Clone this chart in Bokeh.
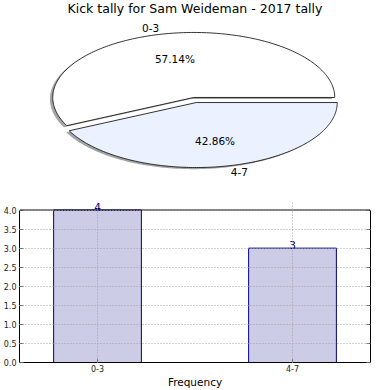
import numpy as np
from bokeh.plotting import figure
from bokeh.models import (Range1d, FixedTicker, ColumnDataSource, Span,
                          PrintfTickFormatter, LinearAxis)
from bokeh.layouts import column
from bokeh.embed import file_html
from bokeh.resources import INLINE
from bokeh.core.properties import value

# ---- data ----
title_text = "Kick tally for Sam Weideman - 2017 tally"
categories = ["0-3", "4-7"]
counts = [4, 3]
explode = [0.04, 0.04]
pie_colors = ["#FFFFFF", "#EBF1FE"]
y_ticks = [0.0, 0.5, 1.0, 1.5, 2.0, 2.5, 3.0, 3.5, 4.0]
x_label = "Frequency"

FONT = "DejaVu Sans"
BL, BR = 19, 20  # shared left/right borders so both frames line up

# ---- pie ----
p1 = figure(width=390, height=185, x_range=Range1d(-1.2447, 1.2447),
            y_range=Range1d(-1.3154, 1.5308), output_backend="svg",
            toolbar_location=None, x_axis_location=None, y_axis_location=None,
            min_border_left=BL, min_border_right=BR, min_border_top=0,
            min_border_bottom=0)
p1.grid.visible = False
p1.outline_line_color = None

total = float(sum(counts))
start = 0.0
wx, wy, sx, sy, cols, shcols = [], [], [], [], [], []
lab_x, lab_y, lab_t, lab_align = [], [], [], []
pct_x, pct_y, pct_t = [], [], []
for cat, c, e, col in zip(categories, counts, explode, pie_colors):
    ang = 360.0 * c / total
    a0, a1 = np.radians(start), np.radians(start + ang)
    mid = (a0 + a1) / 2
    ox, oy = e * np.cos(mid), e * np.sin(mid)
    t = np.linspace(a0, a1, 200)
    xs = np.concatenate([[0.0], np.cos(t), [0.0]]) + ox
    ys = np.concatenate([[0.0], np.sin(t), [0.0]]) + oy
    wx.append(list(xs)); wy.append(list(ys))
    sx.append(list(xs - 0.02)); sy.append(list(ys - 0.025))
    cols.append(col)
    rgb = [int(col[i:i + 2], 16) for i in (1, 3, 5)]
    shcols.append("#%02x%02x%02x" % tuple(int(0.3 * v) for v in rgb))
    lx = ox + 1.1 * np.cos(mid)
    ly = oy + 1.1 * np.sin(mid)
    lab_x.append(lx); lab_y.append(ly); lab_t.append(cat)
    lab_align.append("right" if lx < 0 else "left")
    pct_x.append(ox + 0.6 * np.cos(mid)); pct_y.append(oy + 0.6 * np.sin(mid))
    pct_t.append("%.2f%%" % (100.0 * c / total))
    start += ang

p1.patches(xs=sx, ys=sy, fill_color=shcols, fill_alpha=0.5, line_color=None)
p1.patches(xs=wx, ys=wy, fill_color=cols, line_color="black", line_width=0.8)

p1.text(x=lab_x, y=lab_y, text=lab_t, text_align=lab_align, text_baseline="middle",
        text_font=value(FONT), text_font_size="10.5px", text_color="black")
p1.text(x=pct_x, y=pct_y, text=pct_t, text_align="center", text_baseline="middle",
        text_font=value(FONT), text_font_size="10.5px", text_color="black")
p1.text(x=[0], y=[1.4154], text=[title_text], text_align="center",
        text_baseline="alphabetic", text_font=value(FONT),
        text_font_size="12.5px", text_color="black")

# ---- bars ----
xpos = list(range(len(categories)))
ymax = max(y_ticks)
p2 = figure(width=390, height=205, x_range=Range1d(-0.4, 1.4),
            y_range=Range1d(0, ymax + 0.25),
            output_backend="svg", toolbar_location=None,
            min_border_top=15, min_border_bottom=0, min_border_left=BL,
            min_border_right=BR)
p2.outline_line_color = None
src = ColumnDataSource(dict(x=xpos, top=counts, label=[str(c) for c in counts]))
p2.vbar(x="x", top="top", width=0.45, source=src, fill_color="navy", fill_alpha=0.2,
        line_color="navy", line_width=1)
p2.text(x="x", y="top", text="label", source=src, text_align="center",
        text_baseline="bottom", y_offset=1, text_font=value(FONT),
        text_font_size="10.5px", text_color="navy")

p2.add_layout(LinearAxis(), "right")
xt = FixedTicker(ticks=xpos)
yt = FixedTicker(ticks=y_ticks)
p2.xaxis.ticker = xt
for ax in p2.yaxis:
    ax.ticker = yt
    ax.bounds = (0, ymax)
p2.xaxis.major_label_overrides = {i: c for i, c in zip(xpos, categories)}
p2.left[0].formatter = PrintfTickFormatter(format="%.1f")
p2.right[0].major_label_overrides = {v: "" for v in y_ticks}
for ax in p2.xaxis + p2.yaxis:
    ax.major_tick_in = 4
    ax.major_tick_out = 0
    ax.major_tick_line_color = "#666666"
    ax.minor_tick_line_color = None
    ax.major_label_text_font = FONT
    ax.major_label_text_font_size = "8px"
    ax.major_label_text_color = "#222222"
    ax.axis_line_color = "black"
p2.right[0].major_label_standoff = 0
p2.right[0].major_label_text_font_size = "1px"
p2.left[0].major_label_standoff = 3
p2.xaxis.major_label_standoff = 2
p2.xaxis.axis_label = x_label
p2.xaxis.axis_label_text_font = FONT
p2.xaxis.axis_label_text_font_size = "10.5px"
p2.xaxis.axis_label_text_font_style = "normal"
p2.xaxis.axis_label_text_color = "black"
p2.xaxis.axis_label_standoff = 1

p2.add_layout(Span(location=ymax, dimension="width", line_color="black", line_width=1))
p2.grid.grid_line_color = "#a0a0a0"
p2.grid.grid_line_dash = "1 2"
p2.grid.level = "overlay"
p2.xgrid.bounds = (0, ymax)

layout = column(p1, p2, spacing=0)
open("out.html", "w").write(file_html(layout, INLINE))
